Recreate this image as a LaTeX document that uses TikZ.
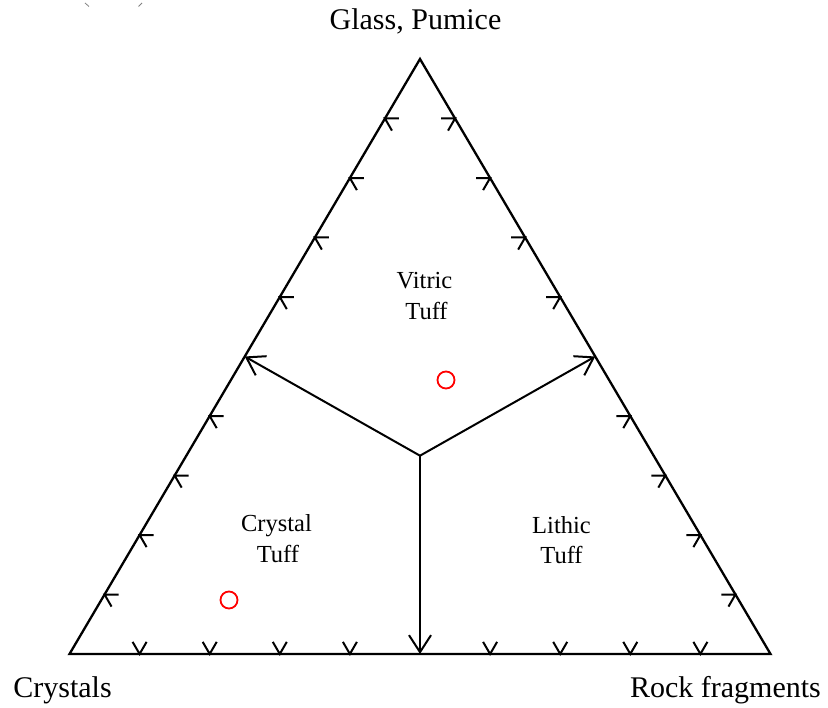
\documentclass[tikz,border=0pt]{standalone}
\usepackage{fontspec}
\setmainfont{Liberation Serif}
\usetikzlibrary{calc,arrows.meta}
\begin{document}
\begin{tikzpicture}[x=1pt,y=-1pt,
  edge/.style={line width=2.3pt, line join=miter},
  divider/.style={line width=2pt, -{Straight Barb[length=17pt,width=22pt]}},
  tickmark/.style={line width=2pt},
  corner/.style={font=\fontsize{30}{36}\selectfont, inner sep=0pt, anchor=base},
  field/.style={font=\fontsize{24.5}{29}\selectfont, inner sep=0pt, anchor=base},
  sample/.style={circle, draw=red, line width=1.8pt, minimum size=17pt, inner sep=0pt},
  speck/.style={draw=gray, line width=0.8pt}]
\useasboundingbox (0,0) rectangle (828,708);
\coordinate (A) at (420,59);
\coordinate (B) at (69.5,654);
\coordinate (C) at (770.5,654);
\coordinate (O) at (420,455.7);
\coordinate (ML) at ($(B)!0.5!(A)$);
\coordinate (MR) at ($(C)!0.5!(A)$);
\coordinate (MB) at ($(B)!0.5!(C)$);
% triangle
\draw[edge] (A) -- (B) -- (C) -- cycle;
% dividers
\draw[divider] (O) -- (ML);
\draw[divider] (O) -- (MR);
\draw[divider] (O) -- (MB);
% ticks
\foreach \k in {1,2,3,4,6,7,8,9} {
  \coordinate (pl) at ($(B)!\k/10!(A)$);
  \draw[tickmark] ($(pl)+(14,0)$) -- (pl) -- ($(pl)+(7,12.1)$);
  \coordinate (pr) at ($(C)!\k/10!(A)$);
  \draw[tickmark] ($(pr)+(-14,0)$) -- (pr) -- ($(pr)+(-7,12.1)$);
  \coordinate (pb) at ($(B)!\k/10!(C)$);
  \draw[tickmark] ($(pb)+(-7,-12.1)$) -- (pb) -- ($(pb)+(7,-12.1)$);
}
% labels
\node[corner] (glass) at (415.5,30) {Glass, Pumice};
\node[corner] (crys) at (62.5,697) {Crystals};
\node[corner] (rock) at (725.5,697) {Rock fragments};
\node[field] (vit1) at (424.5,289) {Vitric};
\node[field] (vit2) at (426.5,320) {Tuff};
\node[field] (cry1) at (276.5,532) {Crystal};
\node[field] (cry2) at (278,562) {Tuff};
\node[field] (lit1) at (561.5,533) {Lithic};
\node[field] (lit2) at (561.5,563) {Tuff};
% samples
\node[sample] (s1) at (446,380) {};
\node[sample] (s2) at (229,600) {};
% specks
\draw[speck] (85,3) -- (89,6.5);
\draw[speck] (142,3) -- (138.5,6.5);
\end{tikzpicture}
\end{document}
